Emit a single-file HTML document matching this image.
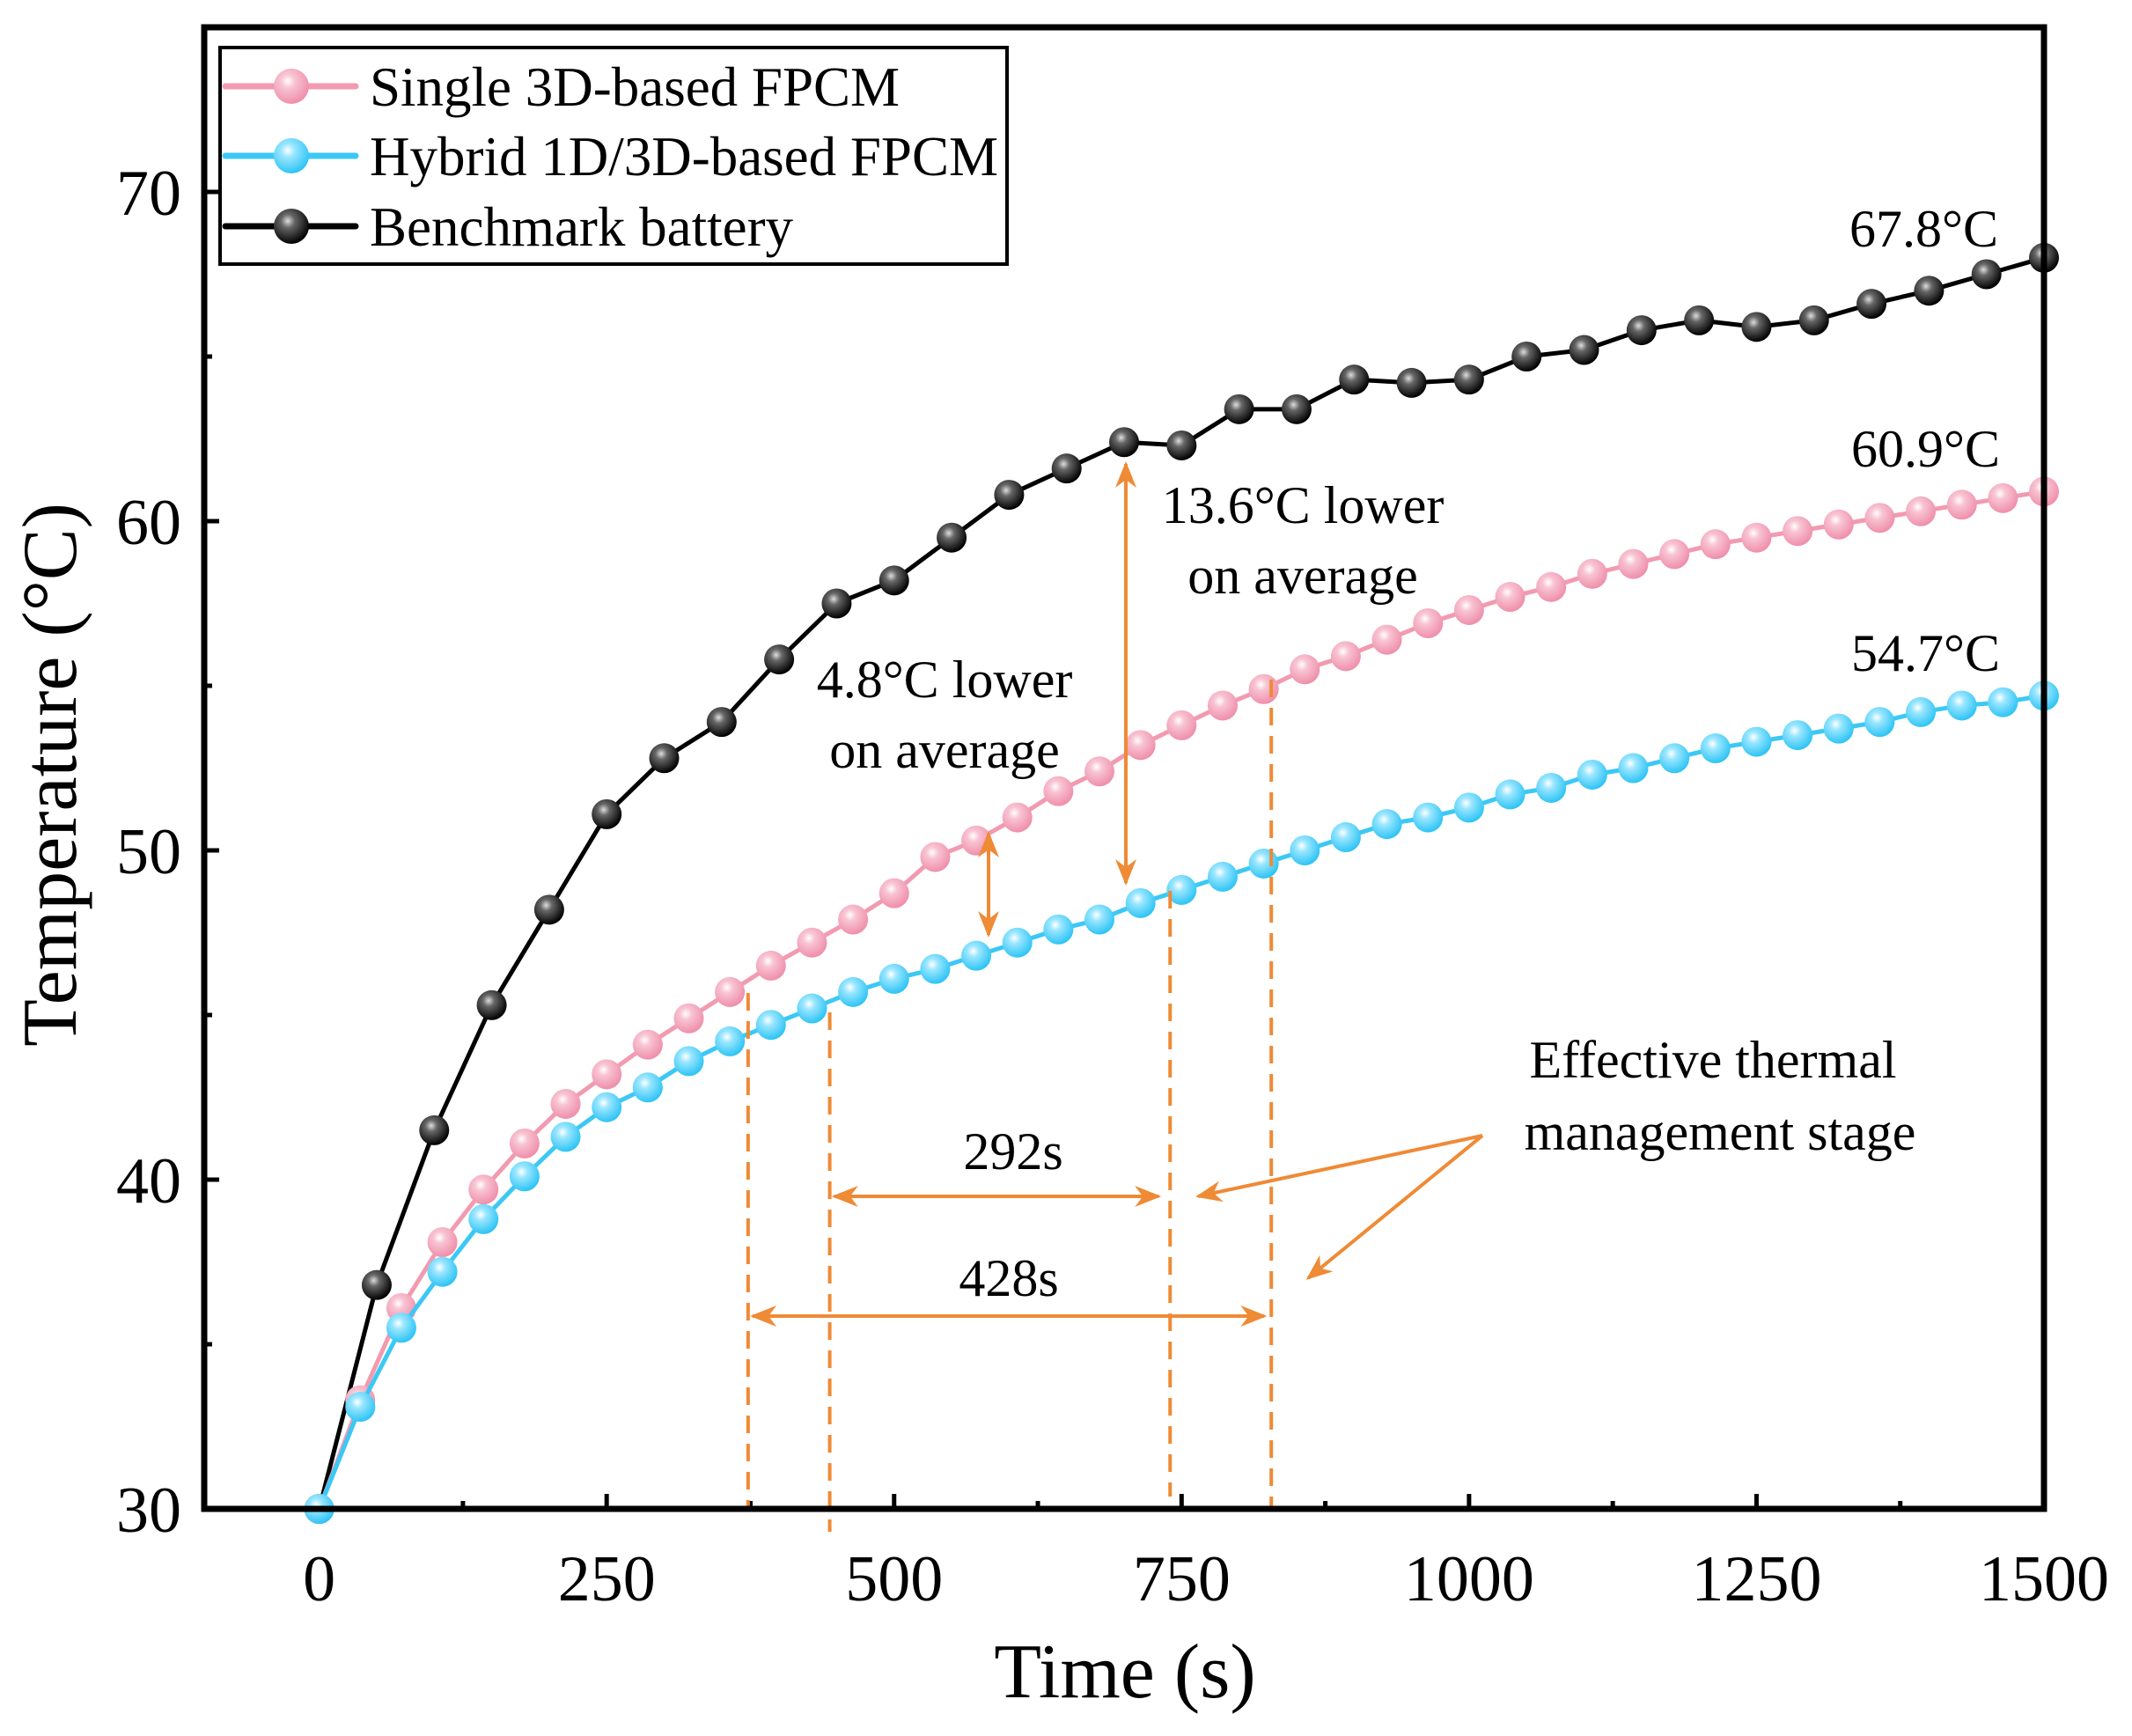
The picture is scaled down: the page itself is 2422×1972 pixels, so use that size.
<!DOCTYPE html>
<html><head><meta charset="utf-8"><style>
html,body{margin:0;padding:0;background:#fff}
svg{display:block}
text{font-family:"Liberation Serif",serif;fill:#000}
</style></head><body>
<svg id="chart" width="2422" height="1972" viewBox="0 0 2422 1972" xmlns="http://www.w3.org/2000/svg">
<defs>
<radialGradient id="gPink" cx="0.4" cy="0.35" r="0.65"><stop offset="0" stop-color="#fff"/><stop offset="0.3" stop-color="#f8c4d3"/><stop offset="1" stop-color="#ef8fab"/></radialGradient>
<radialGradient id="gBlue" cx="0.4" cy="0.35" r="0.65"><stop offset="0" stop-color="#fff"/><stop offset="0.3" stop-color="#9ae6ff"/><stop offset="1" stop-color="#2ec4f5"/></radialGradient>
<radialGradient id="gBlack" cx="0.4" cy="0.35" r="0.65"><stop offset="0" stop-color="#ddd"/><stop offset="0.3" stop-color="#666"/><stop offset="1" stop-color="#000"/></radialGradient>
<marker id="ah" viewBox="0 0 10 10" refX="9" refY="5" markerWidth="30" markerHeight="24" orient="auto-start-reverse" markerUnits="userSpaceOnUse" preserveAspectRatio="none"><path d="M0,0 L10,5 L0,10 L3,5 z" fill="#ef8a35"/></marker>
</defs>
<g id="plot"></g>
</svg>
<script>
const pinkValues=[30,33.3,36.1,38.1,39.7,41.1,42.3,43.2,44.1,44.9,45.7,46.5,47.2,47.9,48.7,49.8,50.3,51.0,51.8,52.4,53.2,53.8,54.4,54.9,55.5,55.9,56.4,56.9,57.3,57.7,58.0,58.4,58.7,59.0,59.3,59.5,59.7,59.9,60.1,60.3,60.5,60.7,60.9];
const blueValues=[30,33.1,35.5,37.2,38.8,40.1,41.3,42.2,42.8,43.6,44.2,44.7,45.2,45.7,46.1,46.4,46.8,47.2,47.6,47.9,48.4,48.8,49.2,49.6,50.0,50.4,50.8,51.0,51.3,51.7,51.9,52.3,52.5,52.8,53.1,53.3,53.5,53.7,53.9,54.2,54.4,54.5,54.7];
const blackValues=[30,36.8,41.5,45.3,48.2,51.1,52.8,53.9,55.8,57.5,58.2,59.5,60.8,61.6,62.4,62.3,63.4,63.4,64.3,64.2,64.3,65.0,65.2,65.8,66.1,65.9,66.1,66.6,67.0,67.5,68.0];
const xTicks=[0,250,500,750,1000,1250,1500];
const yTicks=[30,40,50,60,70];
const fpcmTimes=pinkValues.map((v,i)=>i*1500/42);
const benchTimes=blackValues.map((v,i)=>i*50);

const NS="http://www.w3.org/2000/svg";
const L=232,R=2322,T=31,B=1714;
const xMin=-100,xMax=1500,yMin=30,yMax=75;
const X=t=>L+(t-xMin)/(xMax-xMin)*(R-L);
const Y=v=>B-(v-yMin)/(yMax-yMin)*(B-T);
const g=document.getElementById('plot');
function el(tag,attrs,parent){const e=document.createElementNS(NS,tag);for(const k in attrs)e.setAttribute(k,attrs[k]);(parent||g).appendChild(e);return e;}
function txt(s,x,y,size,anchor,parent){const e=el('text',{x:x,y:y,'font-size':size,'text-anchor':anchor||'start'},parent);e.textContent=s;return e;}

xTicks.forEach(t=>{
  const l=el('line',{x1:X(t),x2:X(t),y1:B,y2:B-17,stroke:'#000','stroke-width':5});
  
  
  const m=el('line',{x1:X(t-125),x2:X(t-125),y1:B,y2:B-9,stroke:'#000','stroke-width':5});
  
  
  const lb=txt(String(t),X(t),B+104,74,'middle');
  
  
});
yTicks.forEach(v=>{
  const l=el('line',{x1:L,x2:L+17,y1:Y(v),y2:Y(v),stroke:'#000','stroke-width':5});
  
  
  const m=el('line',{x1:L,x2:L+9,y1:Y(v+5),y2:Y(v+5),stroke:'#000','stroke-width':5});
  
  
  const lb=txt(String(v),206,Y(v)+26,74,'end');
  
  
});

function series(name,times,vals,color,grad){
  const gg=el('g',{});
  
  
  const p=el('polyline',{points:times.map((t,i)=>X(t)+','+Y(vals[i])).join(' '),fill:'none',stroke:color,'stroke-width':5,'stroke-linejoin':'round'},gg);
  
  
  times.forEach((t,i)=>{
    const c=el('circle',{cx:X(t),cy:Y(vals[i]),r:17,fill:'url(#'+grad+')'},gg);
    
    
  });
}
series('benchmark',benchTimes,blackValues,'#000','gBlack');
series('single-3d',fpcmTimes,pinkValues,'#f29ab0','gPink');
series('hybrid',fpcmTimes,blueValues,'#3cc8f5','gBlue');

const OR='#ef8a35';
function dline(t,y1,y2){const l=el('line',{x1:X(t),x2:X(t),y1:y1,y2:y2,stroke:OR,'stroke-width':4,'stroke-dasharray':'20,12'});
  
  }
dline(373,1128,1714);dline(444,1150,1740);dline(740,1012,1700);dline(828,772,1714);
function arrow(x1,y1,x2,y2,both,name){const a=el('line',{x1:x1,y1:y1,x2:x2,y2:y2,stroke:OR,'stroke-width':4,'marker-end':'url(#ah)'});
  if(both)a.setAttribute('marker-start','url(#ah)');
  
  }
arrow(X(448),1359,X(730),1359,true,'arrow-292s');
arrow(X(377),1495,X(822),1495,true,'arrow-428s');
arrow(1123,947,1123,1062,true,'arrow-4-8c');
arrow(1279,527,1279,1003,true,'arrow-13-6c');
arrow(1684,1290,1361,1359,false,'arrow-stage-1');
arrow(1684,1290,1486,1452,false,'arrow-stage-2');

function label(s,x,y,anchor,name){const t=txt(s,x,y,60,anchor);}
label('292s',1151,1328,'middle','label-292s');
label('428s',1146,1472,'middle','label-428s');
label('4.8°C lower',1073,792,'middle','label-4-8c-1');
label('on average',1073,872,'middle','label-4-8c-2');
label('13.6°C lower',1480,594,'middle','label-13-6c-1');
label('on average',1480,674,'middle','label-13-6c-2');
label('Effective thermal',1946,1224,'middle','label-stage-1');
label('management stage',1954,1306,'middle','label-stage-2');
label('67.8°C',2270,280,'end','end-value-benchmark');
label('60.9°C',2272,530,'end','end-value-single');
label('54.7°C',2272,762,'end','end-value-hybrid');

const f=el('rect',{x:L,y:T,width:R-L,height:B-T,fill:'none',stroke:'#000','stroke-width':7});



const xt=txt('Time (s)',1278,1928,88,'middle');


const yt=txt('Temperature (°C)',0,0,88,'middle');
yt.setAttribute('transform','translate(86,880) rotate(-90)');



const lg=el('g',{});


const lb=el('rect',{x:250,y:54,width:894,height:246,fill:'#fff',stroke:'#000','stroke-width':4},lg);


[['Single 3D-based FPCM','#f29ab0','gPink',98],['Hybrid 1D/3D-based FPCM','#3cc8f5','gBlue',177],['Benchmark battery','#000','gBlack',257]].forEach(r=>{
  const e=el('g',{},lg);
  
  
  el('line',{x1:256,x2:404,y1:r[3],y2:r[3],stroke:r[1],'stroke-width':7,'stroke-linecap':'round'},e);
  el('circle',{cx:331,cy:r[3],r:20,fill:'url(#'+r[2]+')'},e);
  txt(r[0],420,r[3]+22,63,'start',e);
});
</script>
</body></html>
